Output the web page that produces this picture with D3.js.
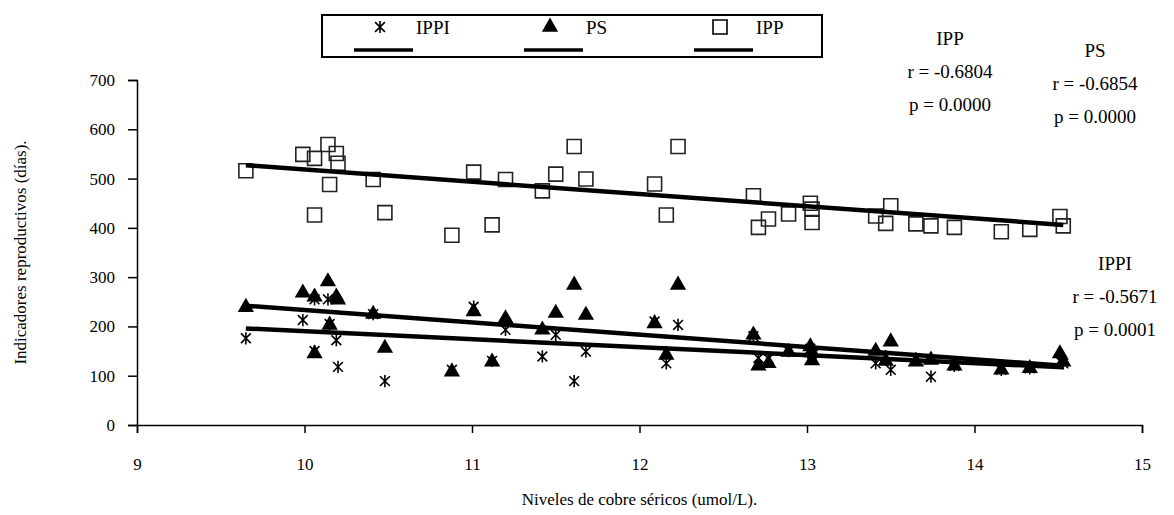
<!DOCTYPE html>
<html lang="es">
<head>
  <meta charset="UTF-8">
  <title>Indicadores reproductivos vs cobre sérico</title>
  <script src="https://cdn.jsdelivr.net/npm/d3@7"></script>
  <style>
    body { margin: 0; background: #fff; }
    #chart, #chart text { font-family: "Liberation Serif", "Times New Roman", Times, "DejaVu Serif", serif !important; }
    .axis path, .axis line { stroke: #000; stroke-width: 1.5; }
    .axis text { font-size: 17px; fill: #000; }
  </style>
</head>
<body>
  <svg id="chart" width="1174" height="515"></svg>
  <script>
    // copper level of each cow (x) and the three reproductive indicators (days)
    const cobre = [9.65, 9.99, 10.06, 10.06, 10.14, 10.15, 10.19, 10.20, 10.41, 10.48,
                   10.88, 11.01, 11.12, 11.20, 11.42, 11.50, 11.61, 11.68, 12.09, 12.16,
                   12.23, 12.68, 12.71, 12.77, 12.89, 13.02, 13.03, 13.03, 13.41, 13.50,
                   13.47, 13.65, 13.74, 13.88, 14.16, 14.33, 14.51, 14.53];
    const ippi = [176, 213, 255, 150, 255, 205, 172, 118, 225, 89,
                  112, 240, 130, 193, 139, 183, 89, 149, 210, 125,
                  203, 180, 136, 135, 150, 155, 145, 135, 125, 112,
                  140, 135, 98, 120, 112, 115, 130, 125];
    const ps = [239, 268, 260, 145, 291, 203, 260, 254, 225, 156,
                108, 230, 128, 216, 193, 227, 284, 223, 206, 142,
                284, 183, 120, 125, 148, 159, 147, 131, 150, 169,
                130, 128, 132, 120, 112, 115, 145, 128];
    const ipp = [516, 549, 541, 426, 569, 488, 551, 531, 498, 431,
                 385, 513, 406, 498, 475, 509, 565, 499, 489, 426,
                 565, 465, 401, 418, 428, 450, 438, 411, 424, 445,
                 409, 408, 404, 401, 392, 397, 423, 404];

    // fitted lines as drawn (end points)
    const trendX = [9.65, 14.53];
    const trendIPPI = [196, 117];
    const trendPS = [242, 120];
    const trendIPP = [527, 406];

    const xTicks = [9, 10, 11, 12, 13, 14, 15];
    const yTicks = [0, 100, 200, 300, 400, 500, 600, 700];
    const legendNames = ['IPPI', 'PS', 'IPP'];
    const statNames = ['IPP', 'PS', 'IPPI'];
    const statR = ['-0.6804', '-0.6854', '-0.5671'];
    const statP = ['0.0000', '0.0000', '0.0001'];

    const margin = {top: 80, right: 32, bottom: 90, left: 137};
    const W = 1174, H = 515;
    const innerW = W - margin.left - margin.right;
    const innerH = H - margin.top - margin.bottom;
    const serif = '"Liberation Serif", "Times New Roman", serif';

    const svg = d3.select('#chart');
    const g = svg.append('g').attr('transform', `translate(${margin.left},${margin.top})`);

    const x = d3.scaleLinear().domain([9, 15]).range([0, innerW]);
    const y = d3.scaleLinear().domain([0, 700]).range([innerH, 0]);

    // axes
    g.append('g').attr('class', 'axis')
      .attr('transform', `translate(0,${innerH})`)
      .call(d3.axisBottom(x).tickValues(xTicks).tickFormat(d3.format('d'))
        .tickSize(8).tickSizeOuter(8).tickPadding(25))
      .attr('font-family', serif);
    g.append('g').attr('class', 'axis')
      .call(d3.axisLeft(y).tickValues(yTicks).tickSize(9).tickSizeOuter(9).tickPadding(13))
      .attr('font-family', serif);

    // axis titles
    svg.append('text')
      .attr('x', margin.left + innerW / 2).attr('y', 505)
      .attr('text-anchor', 'middle').attr('font-family', serif).style('font-size', '17px')
      .text('Niveles de cobre séricos (umol/L).');
    svg.append('text')
      .attr('transform', `translate(26,${margin.top + innerH / 2}) rotate(-90)`)
      .attr('text-anchor', 'middle').attr('font-family', serif).style('font-size', '17px')
      .text('Indicadores reproductivos (días).');

    // asterisk marker: vertical bar plus an X
    const asterisk = {
      draw(ctx, size) {
        const r = Math.sqrt(size) / 2;
        const d = r * 0.8;
        ctx.moveTo(0, -r); ctx.lineTo(0, r);
        ctx.moveTo(-d, -d); ctx.lineTo(d, d);
        ctx.moveTo(-d, d); ctx.lineTo(d, -d);
      }
    };
    const starPath = d3.symbol().type(asterisk).size(150);
    const triPath = d3.symbol().type(d3.symbolTriangle).size(115);
    const sqPath = d3.symbol().type(d3.symbolSquare).size(196);

    const pts = cobre.map((c, i) => ({c, ippi: ippi[i], ps: ps[i], ipp: ipp[i]}));

    g.append('g').selectAll('path').data(pts).join('path')
      .attr('d', starPath)
      .attr('transform', d => `translate(${x(d.c)},${y(d.ippi)})`)
      .attr('fill', 'none').attr('stroke', '#000').attr('stroke-width', 1.6);

    g.append('g').selectAll('path').data(pts).join('path')
      .attr('d', triPath)
      .attr('transform', d => `translate(${x(d.c)},${y(d.ps)})`)
      .attr('fill', '#000');

    g.append('g').selectAll('path').data(pts).join('path')
      .attr('d', sqPath)
      .attr('transform', d => `translate(${x(d.c)},${y(d.ipp)})`)
      .attr('fill', 'none').attr('stroke', '#222').attr('stroke-width', 1.6);

    // trend lines
    const line = d3.line().x(d => x(d[0])).y(d => y(d[1]));
    [trendIPPI, trendPS, trendIPP].forEach(t => {
      g.append('path')
        .datum(trendX.map((v, i) => [v, t[i]]))
        .attr('d', line)
        .attr('fill', 'none').attr('stroke', '#000').attr('stroke-width', 4.5);
    });

    // legend
    const lg = svg.append('g');
    lg.append('rect').attr('x', 322).attr('y', 15).attr('width', 500).attr('height', 42)
      .attr('fill', '#fff').attr('stroke', '#000').attr('stroke-width', 2);
    const shapes = [starPath, triPath, sqPath];
    legendNames.forEach((name, i) => {
      const mx = 380 + i * 170;
      const item = lg.append('g');
      item.append('path').attr('d', shapes[i])
        .attr('transform', `translate(${mx},27)`)
        .attr('fill', i === 1 ? '#000' : 'none')
        .attr('stroke', i === 1 ? 'none' : '#000').attr('stroke-width', 1.6);
      item.append('text').attr('x', mx + 36).attr('y', 34)
        .attr('font-family', serif).style('font-size', '19px').text(name);
      item.append('line').attr('x1', mx - 26).attr('x2', mx + 33)
        .attr('y1', 50).attr('y2', 50)
        .attr('stroke', '#000').attr('stroke-width', 3.5);
    });

    // correlation notes
    const notePos = [[950, 45], [1095, 57], [1115, 270]];
    statNames.forEach((name, i) => {
      const t = svg.append('text').attr('text-anchor', 'middle')
        .attr('font-family', serif).style('font-size', '19px');
      const [nx, ny] = notePos[i];
      t.append('tspan').attr('x', nx).attr('y', ny).text(name);
      t.append('tspan').attr('x', nx).attr('y', ny + 33).text('r = ' + statR[i]);
      t.append('tspan').attr('x', nx).attr('y', ny + 66).text('p = ' + statP[i]);
    });
  </script>
</body>
</html>
